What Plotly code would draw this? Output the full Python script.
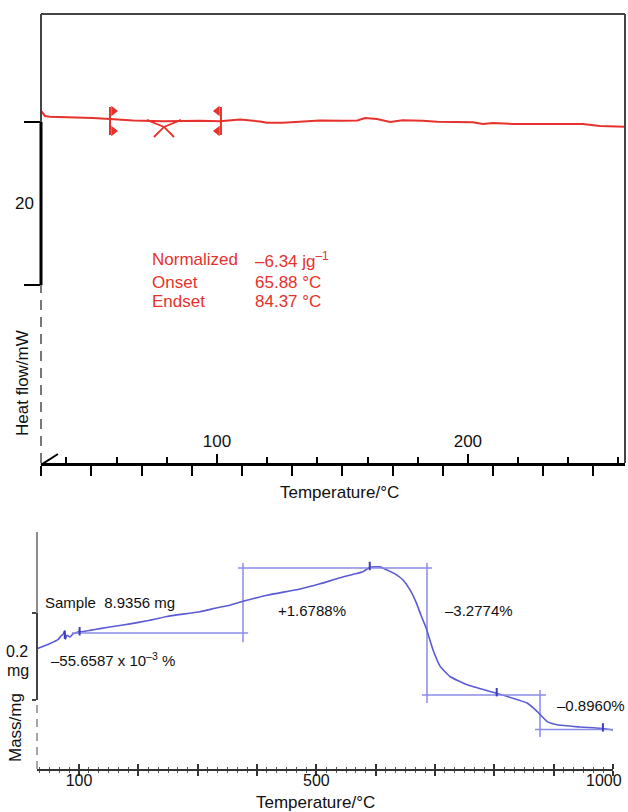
import plotly.graph_objects as go

W, H = 628, 812
FONT = "Liberation Sans, Arial, Helvetica, sans-serif"
RED = "#e6322c"
BLUE = "#5b5bd4"
BLUE_L = "#8b8be8"


def px(x):
    return x / W


def py(y):
    return 1 - y / H


# ---------------- DSC (top) ----------------
hf_T = [30.2, 31.5, 33.5, 40.3, 50.6, 57.4, 66.6, 78.5, 93.2, 101.2, 109.2, 117.2,
        119.9, 126.3, 133.1, 141.0, 150.0, 156.0, 159.0, 163.8, 169.0, 174.0, 182.0,
        187.7, 202.0, 206.0, 210.0, 218.0, 245.8, 252.6, 262.6]
hf_mW = [1.26, 0.74, 0.65, 0.61, 0.49, 0.37, 0.18, 0.09, 0.16, 0.09, 0.31, 0.06,
         -0.10, -0.09, 0.04, 0.18, 0.16, 0.18, 0.49, 0.37, 0.00, 0.22, 0.16,
         0.04, -0.04, -0.25, -0.12, -0.25, -0.25, -0.49, -0.58]

flag_T = [57.4, 101.6]          # integration limits
flag_hi, flag_lo = 1.84, -1.6
pennant_hi, pennant_lo = 1.35, -1.10
pennant_dT = 1.4

tan_T = [72.1, 78.9, 82.9, None, 85.7, 78.9, 74.9]
tan_mW = [0.25, -0.61, -1.84, None, 0.25, -0.61, -1.84]

dsc_xrange = [29.9, 262.6]
dsc_yrange = [-41.84, 13.25]
dsc_lower_ticks = [30, 50, 70, 90, 110, 130, 150, 170, 190, 210, 230, 250]
dsc_upper_ticks = [40, 60, 80, 120, 140, 160, 180, 220, 240, 260]
dsc_major_ticks = [100, 200]
dsc_major_labels = ["100", "200"]
dsc_scale_bar = [-20, 0]
dsc_scale_label = "20"

# ---------------- TGA (bottom) ----------------
tg_T = [29.2, 51.1, 64.6, 69.7, 73.0, 75.6, 77.2, 79.8, 84.8, 89.9, 96.6, 100.0,
        103.4, 118.5, 135.4, 157.3, 186.0, 214.6, 248.3, 303.9, 332.6, 354.5, 379.8,
        416.9, 472.5, 506.2, 539.9, 565.2, 578.7, 590.5, 607.3, 619.1, 632.6, 646.1,
        657.9, 668.0, 676.4, 684.9, 696.7, 708.5, 725.3, 754.0, 804.5, 855.1, 872.0,
        888.8, 905.7, 944.4, 978.1, 1000.0]
tg_mg = [8.918, 8.930, 8.939, 8.947, 8.951, 8.958, 8.940, 8.949, 8.945, 8.952, 8.955,
         8.958, 8.957, 8.960, 8.964, 8.969, 8.975, 8.982, 8.992, 9.003, 9.012, 9.018,
         9.028, 9.041, 9.055, 9.067, 9.081, 9.090, 9.095, 9.105, 9.106, 9.099, 9.090,
         9.076, 9.053, 9.025, 8.995, 8.966, 8.915, 8.878, 8.854, 8.835, 8.815, 8.793,
         8.774, 8.751, 8.743, 8.738, 8.735, 8.731]

# step construction: horizontal levels and vertical limits
hstep_T = [88, 385, None, 368, 695, None, 678, 887, None, 868.6, 1000]
hstep_mg = [8.954, 8.954, None, 9.1034, 9.1034, None, 8.8115, 8.8115, None, 8.732, 8.732]
vstep_T = [376.4, 376.4, None, 686.5, 686.5, None, 877, 877]
vstep_mg = [9.115, 8.933, None, 9.115, 8.793, None, 8.823, 8.715]

mark_T = [76, 101, 590, 804, 983]
mark_mg = [8.950, 8.958, 9.108, 8.818, 8.737]

tg_xrange = [29.2, 1000]
tg_yrange = [8.6414, 9.1862]
tg_major_ticks = [100, 200, 300, 400, 500, 600, 700, 800, 900, 1000]
tg_label_ticks = [100, 500]
tg_labels = ["100", "500"]
tg_end_label = "1000"
tg_scale_bar = [8.8, 9.0]

fig = go.Figure()

# DSC curve
fig.add_trace(go.Scatter(x=hf_T, y=hf_mW, mode="lines",
                         line=dict(color=RED, width=2), xaxis="x", yaxis="y"))
# flags
fx, fy = [], []
for t in flag_T:
    fx += [t, t, None]
    fy += [flag_hi, flag_lo, None]
fig.add_trace(go.Scatter(x=fx, y=fy, mode="lines", line=dict(color=RED, width=2),
                         xaxis="x", yaxis="y"))
# pennants (drawn on the overlay tick axes, which share the main axis range)
fig.add_trace(go.Scatter(x=[flag_T[0] + pennant_dT] * 2, y=[pennant_hi, pennant_lo],
                         mode="markers", marker=dict(symbol="triangle-right", size=9, color=RED),
                         xaxis="x3", yaxis="y"))
fig.add_trace(go.Scatter(x=[flag_T[1] - pennant_dT] * 2, y=[pennant_hi, pennant_lo],
                         mode="markers", marker=dict(symbol="triangle-left", size=9, color=RED),
                         xaxis="x4", yaxis="y"))
fig.add_trace(go.Scatter(x=tan_T, y=tan_mW, mode="lines", line=dict(color=RED, width=1.8),
                         xaxis="x", yaxis="y"))

# TGA
fig.add_trace(go.Scatter(x=hstep_T, y=hstep_mg, mode="lines", line=dict(color=BLUE_L, width=1.5),
                         xaxis="x5", yaxis="y2"))
fig.add_trace(go.Scatter(x=vstep_T, y=vstep_mg, mode="lines", line=dict(color=BLUE_L, width=1.5),
                         xaxis="x2", yaxis="y2"))
fig.add_trace(go.Scatter(x=tg_T, y=tg_mg, mode="lines",
                         line=dict(color=BLUE, width=1.6, shape="spline", smoothing=0.5),
                         xaxis="x2", yaxis="y2"))
fig.add_trace(go.Scatter(x=mark_T, y=mark_mg, mode="markers",
                         marker=dict(symbol="line-ns-open", size=6, color="#3c3cb8",
                                     line=dict(color="#3c3cb8", width=2)),
                         xaxis="x6", yaxis="y2"))

dsc_xdom = [px(41), px(625)]
dsc_ydom = [py(463), py(14)]
tg_xdom = [px(37), px(613)]
tg_ydom = [py(769), py(532)]

tickfont = dict(family=FONT, size=17, color="#111")
tg_tickfont = dict(family=FONT, size=16, color="#111")
common = dict(showgrid=False, zeroline=False, fixedrange=True)
tg_minor = dict(ticks="outside", tick0=100, dtick=100 / 6, ticklen=2.5,
                tickwidth=1, tickcolor="#555")

fig.update_layout(
    width=W, height=H, margin=dict(l=0, r=0, t=0, b=0),
    paper_bgcolor="white", plot_bgcolor="white", showlegend=False,
    font=dict(family=FONT, color="#111"),
    xaxis=dict(domain=dsc_xdom, anchor="y", range=dsc_xrange, showline=True,
               linecolor="black", linewidth=3, ticks="outside", tickmode="array",
               tickvals=dsc_lower_ticks, ticklen=10, tickwidth=2, tickcolor="black",
               showticklabels=False, **common),
    xaxis3=dict(overlaying="x", anchor="free", position=dsc_ydom[0], side="top",
                range=dsc_xrange, showline=False, ticks="outside", tickmode="array",
                tickvals=dsc_upper_ticks, ticklen=6, tickwidth=2, tickcolor="black",
                showticklabels=False, **common),
    xaxis4=dict(overlaying="x", anchor="free", position=dsc_ydom[0], side="top",
                range=dsc_xrange, showline=False, ticks="outside", tickmode="array",
                tickvals=dsc_major_ticks, ticktext=dsc_major_labels, ticklen=9,
                tickwidth=2, tickcolor="black", tickfont=tickfont, **common),
    yaxis=dict(domain=dsc_ydom, anchor="x", range=dsc_yrange, showline=False,
               ticks="outside", tickmode="array", tickvals=dsc_scale_bar, ticklen=16,
               tickwidth=2, tickcolor="black", showticklabels=False, **common),
    xaxis2=dict(domain=tg_xdom, anchor="y2", range=tg_xrange, showline=True,
                linecolor="#333", linewidth=1.5, ticks="outside", tickmode="array",
                tickvals=tg_major_ticks, ticklen=5, tickwidth=1.5, tickcolor="#333",
                showticklabels=False, minor=tg_minor, **common),
    xaxis5=dict(overlaying="x2", anchor="free", position=tg_ydom[0], side="top",
                range=tg_xrange, showline=False, ticks="outside", tickmode="array",
                tickvals=tg_major_ticks, ticklen=5, tickwidth=1.5, tickcolor="#333",
                showticklabels=False, minor=tg_minor, **common),
    xaxis6=dict(overlaying="x2", anchor="free", position=tg_ydom[0], side="bottom",
                range=tg_xrange, showline=False, ticks="", tickmode="array",
                tickvals=tg_label_ticks, ticktext=tg_labels, ticklabelstandoff=0,
                tickfont=tg_tickfont, **common),
    yaxis2=dict(domain=tg_ydom, anchor="x2", range=tg_yrange, showline=False,
                ticks="outside", tickmode="array", tickvals=tg_scale_bar, ticklen=4,
                tickwidth=1.5, tickcolor="#444", showticklabels=False, **common),
)

shapes = [
    # DSC frame
    dict(type="line", xref="x domain", yref="y domain", x0=0, x1=1, y0=1, y1=1,
         line=dict(color="#444", width=2)),
    dict(type="line", xref="x domain", yref="y domain", x0=1, x1=1, y0=0, y1=1,
         line=dict(color="#444", width=2)),
    dict(type="line", xref="x domain", yref="y", x0=0, x1=0, y0=dsc_scale_bar[1],
         y1=dsc_yrange[1], line=dict(color="#444", width=2)),
    dict(type="line", xref="x domain", yref="y", x0=0, x1=0, y0=dsc_scale_bar[0],
         y1=dsc_scale_bar[1], line=dict(color="black", width=3)),
    dict(type="line", xref="x domain", yref="y", x0=0, x1=0, y0=dsc_yrange[0],
         y1=dsc_scale_bar[0], line=dict(color="#777", width=2, dash="10px,7px")),
    dict(type="line", xref="x domain", yref="y domain", x0=0, x1=0.029, y0=-0.004, y1=0.02,
         line=dict(color="black", width=2)),
    # TGA left axis
    dict(type="line", xref="x2 domain", yref="y2", x0=0, x1=0, y0=tg_scale_bar[1],
         y1=tg_yrange[1], line=dict(color="#666", width=1.5)),
    dict(type="line", xref="x2 domain", yref="y2", x0=0, x1=0, y0=tg_scale_bar[0],
         y1=tg_scale_bar[1], line=dict(color="#444", width=2)),
    dict(type="line", xref="x2 domain", yref="y2", x0=0, x1=0, y0=tg_yrange[0],
         y1=tg_scale_bar[0], line=dict(color="#888", width=1.5, dash="8px,6px")),
]
fig.update_layout(shapes=shapes)


def ann(text, x, y, size=17, color="#111", xanchor="left", **kw):
    return dict(text=text, x=px(x), y=py(y), xref="paper", yref="paper", showarrow=False,
                xanchor=xanchor, yanchor="middle", font=dict(family=FONT, size=size, color=color), **kw)


annotations = [
    dict(text=dsc_scale_label, x=px(36), y=(dsc_scale_bar[0] + dsc_scale_bar[1]) / 2,
         xref="paper", yref="y", showarrow=False, xanchor="right", yanchor="middle",
         font=dict(family=FONT, size=17, color="#111")),
    ann("Heat flow/mW", 22, 383, xanchor="center", textangle=-90),
    ann("Temperature/°C", 339.5, 493, xanchor="center"),
    ann("Normalized", 150, 260, color=RED),
    ann("–6.34 jg<sup>–1</sup>", 253, 260, color=RED),
    ann("Onset", 150, 282, color=RED),
    ann("65.88 °C", 253, 282, color=RED),
    ann("Endset", 150, 302, color=RED),
    ann("84.37 °C", 253, 302, color=RED),
    # TGA
    dict(text=tg_end_label, x=px(624), y=py(780), xref="paper", yref="paper",
         showarrow=False, xanchor="right", yanchor="middle",
         font=tg_tickfont),
    ann("Sample  8.9356 mg", 43, 602, size=15),
    ann("+1.6788%", 276, 610, size=15),
    ann("–3.2774%", 443, 610, size=15),
    ann("–0.8960%", 555, 705, size=15),
    ann("–55.6587 x 10<sup>–3</sup> %", 49, 659, size=15),
    ann("0.2", 17, 651, size=16, xanchor="center"),
    ann("mg", 18, 670, size=16, xanchor="center"),
    ann("Mass/mg", 15, 728, xanchor="center", textangle=-90),
    ann("Temperature/°C", 315, 802, xanchor="center"),
]
fig.update_layout(annotations=annotations)

fig.write_html("out.html", config={"displayModeBar": False},
               post_script="document.body.style.margin='0';")
